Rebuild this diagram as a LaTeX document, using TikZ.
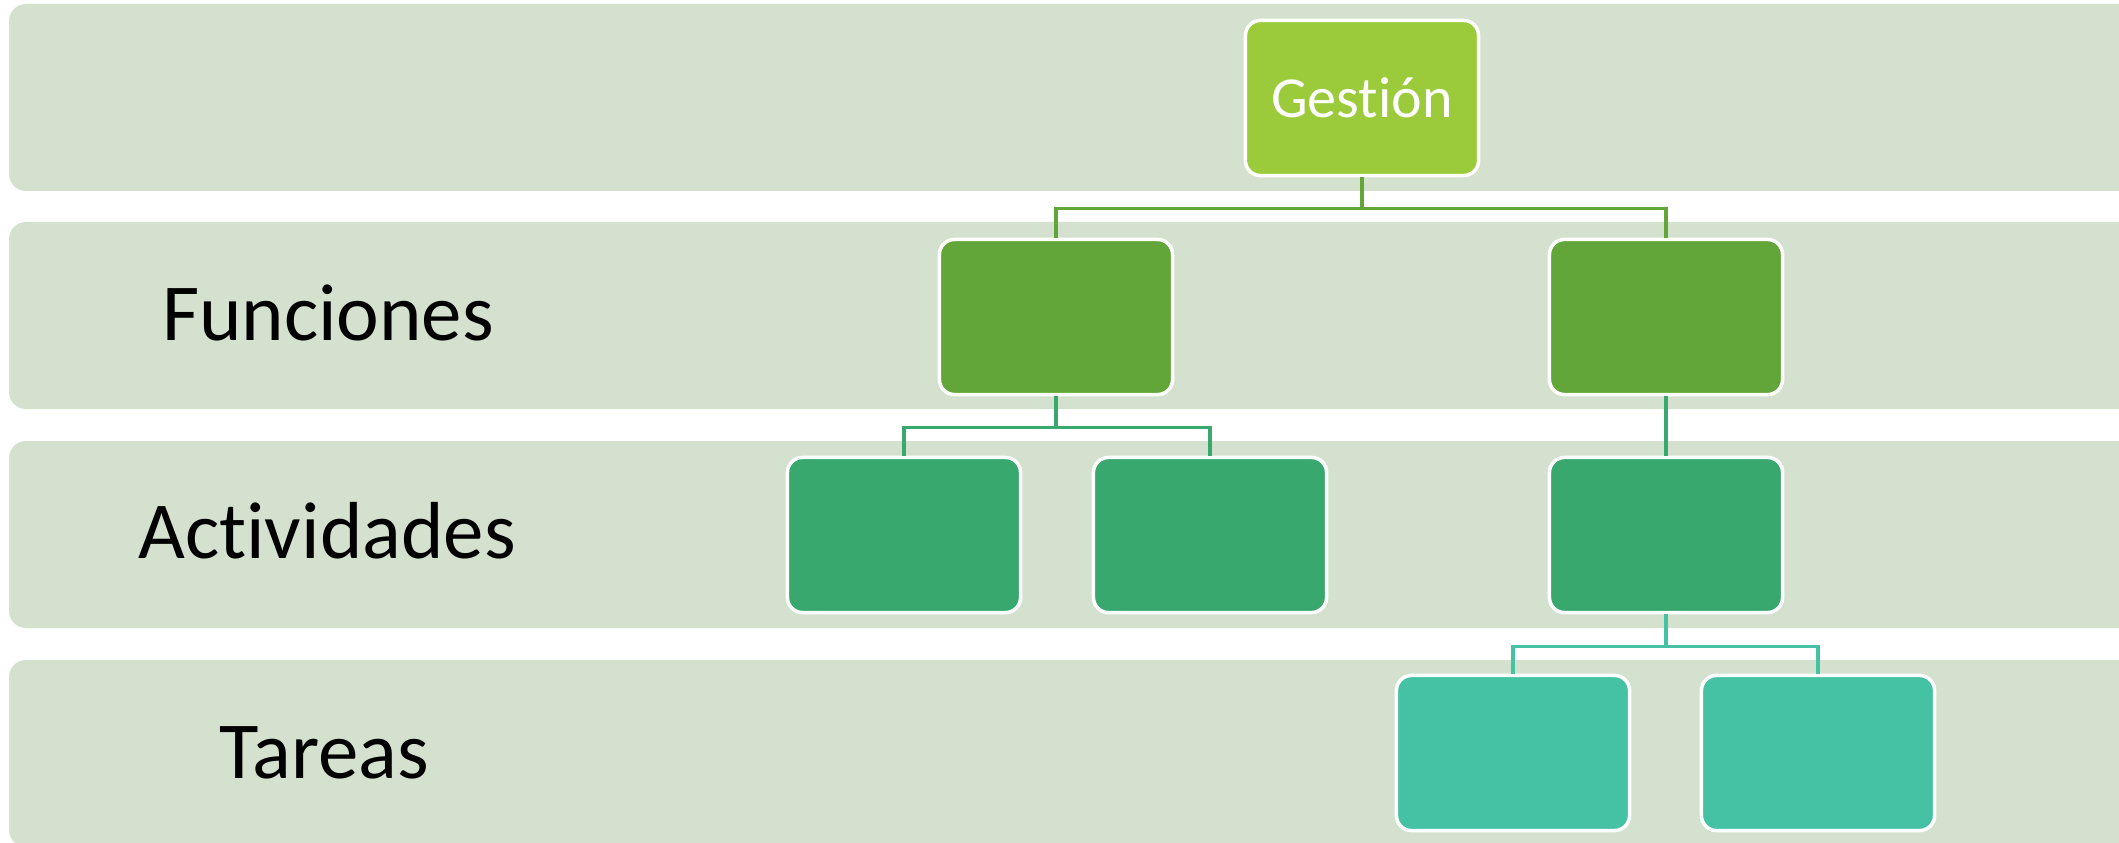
\documentclass[tikz,border=0pt]{standalone}
\usepackage{fontspec}
\setmainfont[Ligatures=NoCommon]{Carlito}
\usepackage{tikz}
\usetikzlibrary{positioning}
\definecolor{bandgreen}{HTML}{D5E1CF}
\definecolor{lvlzero}{HTML}{9BCB3B}
\definecolor{lvlone}{HTML}{62A539}
\definecolor{lvltwo}{HTML}{38A86F}
\definecolor{lvlthree}{HTML}{45C1A4}

\tikzset{
  unit/.style={rectangle,rounded corners=0.15cm,draw=white,line width=1pt,
    minimum width=2.33cm,minimum height=1.55cm,inner sep=0pt},
  band/.style={fill=bandgreen,rounded corners=0.17cm},
  lvltext/.style={font=\fontsize{23}{27}\selectfont,text=black},
  link/.style={line width=1pt}
}

\begin{document}
\begin{tikzpicture}[x=0.01cm,y=-0.01cm]
    \useasboundingbox (0,0) rectangle (2119,843);

    % Background bands
    \foreach \top in {4,222,441,660} {
        \fill[band] (9,\top) rectangle (2136,\top+187);
    }

    % Level names
    \node[lvltext] (lblfun) at (328,313) {Funciones};
    \node[lvltext] (lblact) at (327,531) {Actividades};
    \node[lvltext] (lbltar) at (324,753) {Tareas};

    % Top
    \node[unit,fill=lvlzero,text=white,font=\fontsize{16.5}{20}\selectfont] (ges) at (1362,98) {Gestión};

    % Funciones
    \node[unit,fill=lvlone] (fun1) at (1056,317) {};
    \node[unit,fill=lvlone] (fun2) at (1666,317) {};

    % Actividades
    \node[unit,fill=lvltwo] (act1) at (904,535) {};
    \node[unit,fill=lvltwo] (act2) at (1210,535) {};
    \node[unit,fill=lvltwo] (act3) at (1666,535) {};

    % Tareas
    \node[unit,fill=lvlthree] (tar1) at (1513,753) {};
    \node[unit,fill=lvlthree] (tar2) at (1818,753) {};

    % Connections
    \foreach \j in {1,2} {
        \draw[link,lvlone] (ges.south) -- ++(0,31) -| (fun\j.north);
    }
    \foreach \j in {1,2} {
        \draw[link,lvltwo] (fun1.south) -- ++(0,31) -| (act\j.north);
    }
    \draw[link,lvltwo] (fun2.south) -- (act3.north);
    \foreach \j in {1,2} {
        \draw[link,lvlthree] (act3.south) -- ++(0,32) -| (tar\j.north);
    }
\end{tikzpicture}
\end{document}
